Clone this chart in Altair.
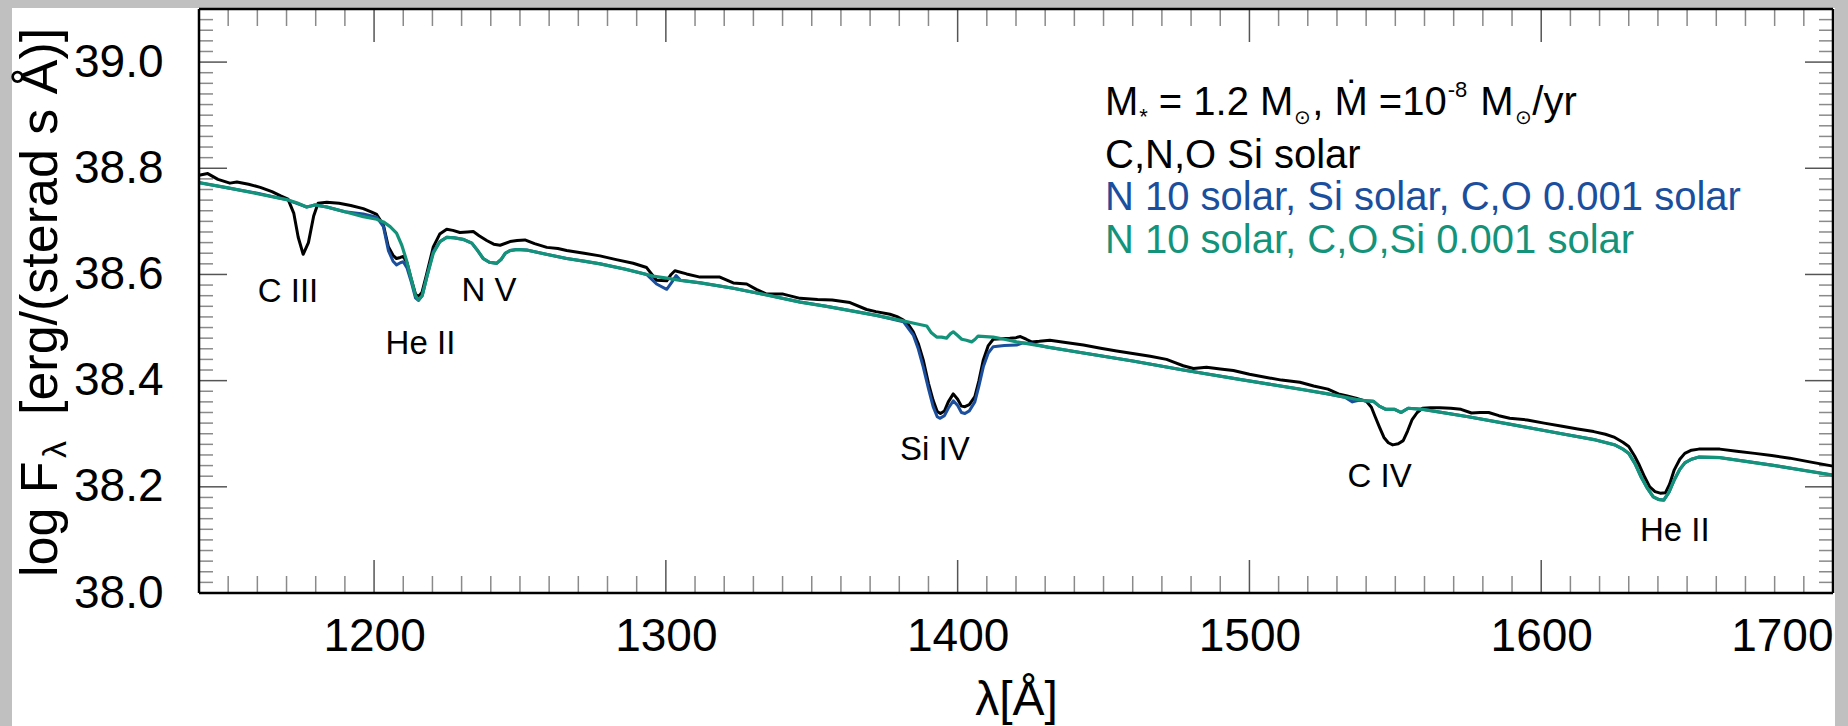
import altair as alt
import pandas as pd

# ---------------- data ----------------
# black: C,N,O,Si solar
black_wl = [1140.0, 1143.0, 1146.5, 1150.6, 1153.0, 1157.0, 1161.0, 1165.0, 1168.0, 1170.5,
            1172.5, 1174.0, 1175.7, 1177.5, 1179.3, 1180.8, 1183.8, 1188.0, 1192.0, 1196.3,
            1199.0, 1200.9, 1203.2, 1204.9, 1206.5, 1207.7, 1209.0, 1210.0, 1211.3, 1212.8,
            1214.2, 1215.2, 1216.4, 1218.0, 1220.3, 1222.5, 1224.9, 1227.0, 1229.4, 1232.0,
            1234.0, 1236.0, 1238.6, 1241.0, 1243.2, 1246.6, 1249.0, 1251.7, 1255.0, 1259.2,
            1263.0, 1266.0, 1272.0, 1277.4, 1283.0, 1288.8, 1293.4, 1295.5, 1296.8, 1300.3,
            1301.8, 1303.1, 1307.1, 1311.7, 1318.5, 1323.1, 1327.7, 1331.0, 1334.5, 1340.2,
            1346.0, 1352.0, 1357.0, 1363.1, 1368.8, 1372.0, 1376.8, 1379.5, 1381.4, 1383.2,
            1384.8, 1386.5, 1388.2, 1390.0, 1391.6, 1393.0, 1394.1, 1395.5, 1396.8, 1398.5,
            1400.0, 1401.3, 1402.5, 1404.0, 1405.9, 1407.3, 1408.8, 1410.5, 1412.2, 1415.0,
            1417.9, 1420.0, 1421.5, 1423.5, 1425.3, 1428.0, 1431.6, 1437.0, 1443.1, 1449.0,
            1454.5, 1460.0, 1466.0, 1471.6, 1474.5, 1477.3, 1480.8, 1485.3, 1490.0, 1494.5,
            1500.0, 1505.9, 1511.0, 1517.3, 1522.0, 1526.9, 1530.5, 1533.5, 1536.5, 1540.1,
            1541.8, 1543.1, 1544.6, 1546.1, 1547.6, 1549.1, 1551.0, 1552.7, 1554.2, 1555.7,
            1557.5, 1559.3, 1562.0, 1565.3, 1569.0, 1572.5, 1576.1, 1579.0, 1582.0, 1585.5,
            1589.2, 1595.2, 1601.0, 1607.2, 1612.5, 1618.0, 1622.0, 1625.2, 1628.0, 1630.0,
            1632.0, 1633.6, 1635.5, 1637.2, 1639.0, 1640.8, 1642.6, 1644.0, 1645.6, 1647.5,
            1649.2, 1651.5, 1654.0, 1661.2, 1667.0, 1673.2, 1679.0, 1685.2, 1692.0, 1700.0]
black_fl = [38.787, 38.790, 38.779, 38.772, 38.774, 38.770, 38.764, 38.756, 38.748, 38.742,
            38.715, 38.670, 38.638, 38.660, 38.710, 38.734, 38.736, 38.734, 38.730, 38.724,
            38.718, 38.713, 38.693, 38.652, 38.636, 38.630, 38.632, 38.634, 38.622, 38.590,
            38.563, 38.558, 38.566, 38.600, 38.652, 38.676, 38.685, 38.683, 38.679, 38.680,
            38.681, 38.673, 38.664, 38.657, 38.655, 38.662, 38.664, 38.665, 38.658, 38.651,
            38.649, 38.645, 38.640, 38.635, 38.628, 38.621, 38.613, 38.598, 38.589, 38.588,
            38.600, 38.607, 38.601, 38.595, 38.595, 38.584, 38.582, 38.572, 38.563, 38.563,
            38.555, 38.553, 38.552, 38.547, 38.534, 38.530, 38.525, 38.520, 38.514, 38.505,
            38.492, 38.470, 38.439, 38.395, 38.363, 38.342, 38.338, 38.343, 38.360, 38.375,
            38.365, 38.352, 38.351, 38.355, 38.370, 38.400, 38.439, 38.466, 38.478, 38.479,
            38.480, 38.481, 38.483, 38.478, 38.473, 38.474, 38.476, 38.472, 38.467, 38.461,
            38.456, 38.451, 38.446, 38.440, 38.434, 38.428, 38.423, 38.425, 38.422, 38.419,
            38.412, 38.406, 38.401, 38.397, 38.390, 38.384, 38.375, 38.371, 38.367, 38.361,
            38.350, 38.332, 38.312, 38.293, 38.283, 38.279, 38.281, 38.287, 38.305, 38.326,
            38.340, 38.348, 38.349, 38.349, 38.348, 38.346, 38.339, 38.340, 38.340, 38.334,
            38.329, 38.326, 38.320, 38.314, 38.309, 38.304, 38.299, 38.293, 38.284, 38.276,
            38.258, 38.241, 38.218, 38.200, 38.191, 38.188, 38.189, 38.205, 38.232, 38.252,
            38.263, 38.269, 38.271, 38.271, 38.267, 38.263, 38.259, 38.254, 38.247, 38.239]

# blue: N 10 solar, Si solar, C,O 0.001 solar
blue_wl = [1140.0, 1150.0, 1160.0, 1170.0, 1176.9, 1179.8, 1183.8, 1190.0, 1196.3, 1200.9,
           1203.2, 1204.9, 1206.5, 1207.7, 1209.0, 1210.0, 1211.3, 1212.8, 1214.2, 1215.2,
           1216.5, 1218.3, 1220.3, 1222.6, 1224.9, 1227.5, 1230.6, 1233.5, 1235.5, 1237.4,
           1239.5, 1242.0, 1243.5, 1245.0, 1246.6, 1249.0, 1252.3, 1259.0, 1266.0, 1272.0,
           1277.4, 1286.0, 1293.4, 1296.8, 1300.3, 1302.0, 1303.5, 1305.0, 1312.0, 1323.1,
           1334.0, 1346.0, 1355.0, 1363.1, 1372.0, 1376.0, 1381.4, 1384.8, 1386.5, 1388.2,
           1390.0, 1391.6, 1393.0, 1393.9, 1395.5, 1396.8, 1398.5, 1400.0, 1401.3, 1402.5,
           1404.0, 1405.9, 1407.3, 1408.8, 1410.5, 1412.2, 1416.0, 1420.2, 1422.4, 1425.0,
           1431.0, 1443.1, 1460.0, 1477.3, 1497.0, 1517.3, 1527.0, 1533.0, 1535.3, 1537.5,
           1540.0, 1542.5, 1544.5, 1546.7, 1549.7, 1552.0, 1554.4, 1559.3, 1575.0, 1589.2,
           1607.0, 1618.0, 1625.2, 1628.0, 1630.0, 1632.2, 1634.2, 1636.3, 1638.4, 1640.3,
           1642.0, 1643.8, 1645.6, 1647.5, 1649.2, 1651.5, 1654.0, 1661.2, 1670.0, 1680.0,
           1690.0, 1700.0]
blue_fl = [38.773, 38.763, 38.753, 38.741, 38.727, 38.731, 38.727, 38.718, 38.714, 38.708,
           38.690, 38.645, 38.625, 38.618, 38.622, 38.624, 38.612, 38.585, 38.556, 38.551,
           38.560, 38.600, 38.643, 38.662, 38.670, 38.669, 38.666, 38.659, 38.645, 38.630,
           38.623, 38.621, 38.628, 38.640, 38.645, 38.647, 38.646, 38.638, 38.630, 38.625,
           38.620, 38.610, 38.600, 38.582, 38.572, 38.585, 38.598, 38.589, 38.584, 38.574,
           38.562, 38.548, 38.540, 38.532, 38.523, 38.518, 38.511, 38.486, 38.460, 38.426,
           38.385, 38.351, 38.332, 38.329, 38.334, 38.348, 38.362, 38.353, 38.340, 38.338,
           38.343, 38.360, 38.390, 38.426, 38.452, 38.464, 38.466, 38.467, 38.471, 38.470,
           38.463, 38.452, 38.437, 38.420, 38.402, 38.384, 38.375, 38.368, 38.360, 38.363,
           38.362, 38.361, 38.352, 38.346, 38.346, 38.340, 38.348, 38.346, 38.332, 38.318,
           38.300, 38.289, 38.279, 38.271, 38.263, 38.243, 38.219, 38.198, 38.181, 38.176,
           38.175, 38.190, 38.213, 38.233, 38.245, 38.252, 38.256, 38.255, 38.248, 38.240,
           38.231, 38.222]

# green: N 10 solar, C,O,Si 0.001 solar
green_wl = [1140.0, 1150.0, 1160.0, 1170.0, 1173.5, 1176.9, 1178.5, 1179.8, 1183.8, 1190.0,
            1196.3, 1200.9, 1203.2, 1205.5, 1207.7, 1209.5, 1211.1, 1212.8, 1214.2, 1215.2,
            1216.5, 1218.3, 1220.3, 1222.6, 1224.9, 1227.5, 1230.6, 1233.5, 1235.5, 1237.4,
            1239.5, 1242.0, 1243.5, 1245.0, 1246.6, 1249.0, 1252.3, 1259.0, 1266.0, 1272.0,
            1277.4, 1286.0, 1295.6, 1300.3, 1305.0, 1312.0, 1323.1, 1334.0, 1346.0, 1355.0,
            1363.1, 1372.0, 1380.2, 1385.0, 1389.4, 1391.0, 1392.8, 1394.5, 1396.2, 1397.5,
            1398.5, 1400.0, 1401.4, 1403.0, 1404.8, 1406.0, 1407.0, 1409.5, 1412.2, 1416.0,
            1420.2, 1431.0, 1443.1, 1460.0, 1477.3, 1497.0, 1517.3, 1527.0, 1536.5, 1540.0,
            1542.5, 1544.5, 1546.7, 1549.7, 1552.0, 1554.4, 1559.3, 1575.0, 1589.2, 1607.0,
            1618.0, 1625.2, 1628.0, 1630.0, 1632.2, 1634.2, 1636.3, 1638.4, 1640.3, 1642.0,
            1643.8, 1645.6, 1647.5, 1649.2, 1651.5, 1654.0, 1661.2, 1670.0, 1680.0, 1690.0,
            1700.0]
green_fl = [38.773, 38.763, 38.752, 38.741, 38.735, 38.727, 38.729, 38.731, 38.727, 38.718,
            38.709, 38.704, 38.699, 38.690, 38.678, 38.655, 38.627, 38.590, 38.560, 38.552,
            38.560, 38.600, 38.640, 38.662, 38.670, 38.669, 38.666, 38.659, 38.645, 38.630,
            38.623, 38.621, 38.628, 38.640, 38.645, 38.647, 38.646, 38.638, 38.630, 38.625,
            38.620, 38.610, 38.597, 38.593, 38.589, 38.584, 38.574, 38.562, 38.548, 38.540,
            38.532, 38.523, 38.514, 38.508, 38.503, 38.490, 38.482, 38.482, 38.480, 38.488,
            38.492, 38.485, 38.478, 38.476, 38.473, 38.478, 38.484, 38.483, 38.482, 38.478,
            38.473, 38.463, 38.452, 38.437, 38.420, 38.402, 38.384, 38.375, 38.365, 38.362,
            38.361, 38.352, 38.346, 38.346, 38.340, 38.348, 38.346, 38.332, 38.318, 38.300,
            38.289, 38.279, 38.271, 38.263, 38.243, 38.219, 38.198, 38.181, 38.176, 38.175,
            38.190, 38.213, 38.233, 38.245, 38.252, 38.256, 38.255, 38.248, 38.240, 38.231,
            38.222]

# line identifications (label, wavelength, flux at text baseline)
line_labels = ["C III", "He II", "N V", "Si IV", "C IV", "He II"]
line_label_wl = [1170.5, 1215.9, 1239.4, 1392.2, 1544.6, 1645.8]
line_label_fl = [38.548, 38.450, 38.550, 38.250, 38.200, 38.098]

# legend block anchor (wavelength, flux of each baseline)
legend_wl = 1450.5
legend_fl = [38.900, 38.800, 38.721, 38.640]
legend_texts = ["C,N,O Si solar",
                "N 10 solar, Si solar, C,O 0.001 solar",
                "N 10 solar, C,O,Si 0.001 solar"]

x_major = [1200, 1300, 1400, 1500, 1600, 1700]
x_minor = [v for v in range(1150, 1700, 10) if v % 100 != 0]
y_major = [38.0, 38.2, 38.4, 38.6, 38.8, 39.0]
y_minor = [round(38.0 + 0.02 * i, 2) for i in range(1, 55) if i % 10 != 0]

# ---------------- style ----------------
W, H = 1634, 584
FONT = "Liberation Sans"
BLACK, BLUE, GREEN = "#000000", "#1b4f9e", "#13937a"
xs = alt.Scale(domain=[1140, 1700], nice=False, zero=False)
ys = alt.Scale(domain=[38.0, 39.1], nice=False, zero=False)

XAX = alt.Axis(values=x_major, format="d", labelFontSize=46, labelFont=FONT,
               labelColor="black", labelPadding=21, labelFlush=True,
               ticks=False, tickSize=0, domain=False, grid=False,
               title="λ[Å]", titleFontSize=48, titleFont=FONT, titleFontWeight="normal",
               titleColor="black", titleBaseline="alphabetic",
               titleX=W / 2, titleY=121, titleAlign="center", zindex=1)
YAX = alt.Axis(values=y_major, format=".1f", labelFontSize=46, labelFont=FONT,
               labelColor="black", labelPadding=36, ticks=False, tickSize=0,
               domain=False, grid=False, title=None, zindex=1)


def X(field="wl"):
    return alt.X(f"{field}:Q", scale=xs, axis=XAX, title="λ[Å]")


def Y(field="flux"):
    return alt.Y(f"{field}:Q", scale=ys, axis=YAX, title=None)


one = pd.DataFrame({"a": [0]})

panel = alt.Chart(one).mark_rect(color="white").encode(
    x=alt.value(-187), x2=alt.value(W + 2), y=alt.value(-1), y2=alt.value(H + 140))


def series(wl, fl, color, width):
    df = pd.DataFrame({"wl": wl, "flux": fl})
    return alt.Chart(df).mark_line(color=color, strokeWidth=width, strokeJoin="round").encode(
        x=X(), y=Y())


def ticks_x(vals, length, color):
    df = pd.DataFrame({"wl": vals})
    b = alt.Chart(df).mark_rule(color=color, strokeWidth=1.5).encode(
        x=X(), y=alt.value(H), y2=alt.value(H - length))
    t = alt.Chart(df).mark_rule(color=color, strokeWidth=1.5).encode(
        x=X(), y=alt.value(0), y2=alt.value(length))
    return [b, t]


def ticks_y(vals, length, color):
    df = pd.DataFrame({"flux": vals})
    l = alt.Chart(df).mark_rule(color=color, strokeWidth=1.5).encode(
        y=Y(), x=alt.value(0), x2=alt.value(length))
    r = alt.Chart(df).mark_rule(color=color, strokeWidth=1.5).encode(
        y=Y(), x=alt.value(W), x2=alt.value(W - length))
    return [l, r]


tick_layers = (ticks_x(x_minor, 17, "#8a8a8a") + ticks_x(x_major, 33, "#555555")
               + ticks_y(y_minor, 14, "#8a8a8a") + ticks_y(y_major, 28, "#555555"))

frame = [
    alt.Chart(one).mark_rule(color="black", strokeWidth=2.5).encode(
        x=alt.value(0), x2=alt.value(W), y=alt.value(0)),
    alt.Chart(one).mark_rule(color="black", strokeWidth=2.5).encode(
        x=alt.value(0), x2=alt.value(W), y=alt.value(H)),
    alt.Chart(one).mark_rule(color="black", strokeWidth=2.5).encode(
        y=alt.value(0), y2=alt.value(H), x=alt.value(0)),
    alt.Chart(one).mark_rule(color="black", strokeWidth=2.5).encode(
        y=alt.value(0), y2=alt.value(H), x=alt.value(W)),
]

labels_df = pd.DataFrame({"t": line_labels, "wl": line_label_wl, "flux": line_label_fl})
labels = alt.Chart(labels_df).mark_text(font=FONT, fontSize=33, color="black", align="center",
                                        baseline="alphabetic").encode(x=X(), y=Y(), text="t:N")

# legend lines 2-4
leg = []
for txt, fl, col in zip(legend_texts, legend_fl[1:], [BLACK, BLUE, GREEN]):
    leg.append(alt.Chart(pd.DataFrame({"t": [txt], "wl": [legend_wl], "flux": [fl]})).mark_text(
        font=FONT, fontSize=40, color=col, align="left", baseline="alphabetic").encode(
        x=X(), y=Y(), text="t:N"))

# legend line 1 with sub/superscripts: (text, size, vertical shift, gap before)
WID = {' ': .278, 'M': .833, '*': .389, '=': .584, '1': .556, '.': .278, '2': .556,
       ',': .278, '0': .556, '-': .333, '8': .556, '/': .278, 'y': .5, 'r': .333, 'Ṁ': .833,
       '⊙': .838}
pieces = [("M", 40, 0, 0), ("*", 22, 9, 1), ("= 1.2 M", 40, 0, 11), ("⊙", 20, 9, 1),
          (", Ṁ =10", 40, 0, 1), ("-8", 22, -18, 1), ("M", 40, 0, 13), ("⊙", 20, 9, 1),
          ("/yr", 40, 0, 1)]
dxacc = 0.0
for txt, size, dy, gap in pieces:
    dxacc += gap
    leg.append(alt.Chart(pd.DataFrame({"t": [txt], "wl": [legend_wl], "flux": [legend_fl[0]]})).mark_text(
        font=FONT, fontSize=size, color="black", align="left", baseline="alphabetic",
        dx=dxacc, dy=dy).encode(x=X(), y=Y(), text="t:N"))
    dxacc += sum(WID.get(c, .556) for c in txt) * size

# y-axis title pieces (rotated)
ytitle = []
for txt, size, xv, yv in [("log F", 52, -142, 568), ("λ", 34, -133, 449),
                          ("[erg/(sterad s Å)]", 52, -142, 406)]:
    ytitle.append(alt.Chart(one).mark_text(font=FONT, fontSize=size, color="black", angle=270,
                                           align="left", baseline="alphabetic", text=txt).encode(
        x=alt.value(xv), y=alt.value(yv)))

chart = alt.layer(
    panel,
    *tick_layers,
    series(black_wl, black_fl, BLACK, 3),
    series(blue_wl, blue_fl, BLUE, 3),
    series(green_wl, green_fl, GREEN, 3.2),
    labels,
    *leg,
    *ytitle,
    *frame,
).properties(
    width=W, height=H,
    padding={"left": 199, "top": 9, "right": 15, "bottom": 133},
    autosize=alt.AutoSizeParams(type="none"),
).configure(background="#c0c0c0").configure_view(stroke=None)

chart.save("out.html", embed_options={"renderer": "svg", "actions": False})
